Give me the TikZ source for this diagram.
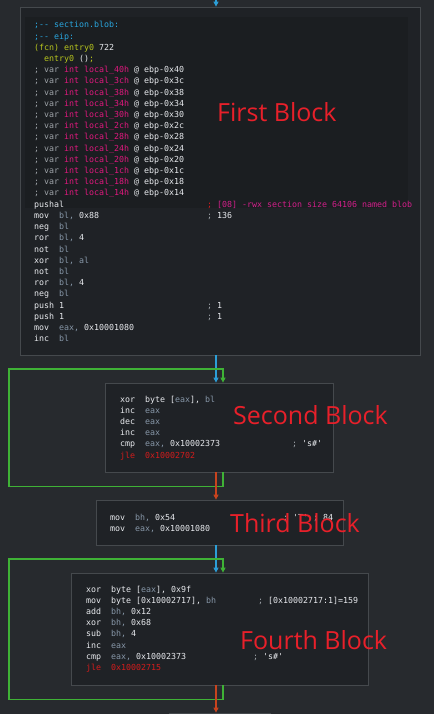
\documentclass[tikz,border=0pt]{standalone}
\usepackage{fontspec}
\setmonofont{DejaVu Sans Mono}
\newfontfamily\labelfont{Open Sans}
\usetikzlibrary{arrows.meta}
\definecolor{bgc}{HTML}{272A2E}
\definecolor{blk}{HTML}{1F2226}
\definecolor{pnl}{HTML}{1B1E21}
\definecolor{brd}{HTML}{45494D}
\definecolor{wht}{HTML}{E8EAEE}
\definecolor{reg}{HTML}{8797A8}
\definecolor{cmt}{HTML}{9EA3A8}
\definecolor{cyn}{HTML}{2AA6DE}
\definecolor{ygn}{HTML}{B8C61E}
\definecolor{mgt}{HTML}{E0187E}
\definecolor{pnk}{HTML}{D21F8A}
\definecolor{jred}{HTML}{D41C1C}
\definecolor{lred}{HTML}{E8202A}
\definecolor{eblue}{HTML}{2C9FD8}
\definecolor{egreen}{HTML}{3FB236}
\definecolor{ered}{HTML}{C8431E}
\newcommand\Rg[1]{\textcolor{reg}{#1}}
\newcommand\Cm[1]{\textcolor{cmt}{#1}}
\newcommand\Cy[1]{\textcolor{cyn}{#1}}
\newcommand\Yg[1]{\textcolor{ygn}{#1}}
\newcommand\Mg[1]{\textcolor{mgt}{#1}}
\newcommand\Pk[1]{\textcolor{pnk}{#1}}
\newcommand\Jr[1]{\textcolor{jred}{#1}}
\newcommand\CL[4]{\node[code] (#1) at (#2,#3) {#4};}
\tikzset{
  code/.style={anchor=base west, inner sep=0pt, text=wht, font=\ttfamily\fontsize{8.3}{10}\selectfont},
  blockbox/.style={draw=brd, fill=blk, line width=0.8pt, inner sep=0pt},
  bigtag/.style={anchor=base west, inner sep=0pt, text=lred, font=\labelfont\fontsize{25}{28}\selectfont},
  edge/.style={line width=1.1pt, -{Triangle[width=5pt,length=5pt]}},
}
\begin{document}
\begin{tikzpicture}[x=1pt,y=-1pt]
\fill[bgc] (0,0) rectangle (434,714);
\useasboundingbox (0,0) rectangle (434,714);
\clip (0,0) rectangle (434,714);
\coordinate (cx) at (216,0);
\coordinate (gx) at (223,0);
\coordinate (topin) at (216,-2);
% blocks
\node[blockbox, minimum width=400pt, minimum height=348pt] (b1) at (220,181) {};
\fill[pnl] (25,17) rectangle (408,208);
\node[blockbox, minimum width=228pt, minimum height=89pt] (b2) at (219,427.5) {};
\node[blockbox, minimum width=247pt, minimum height=45pt] (b3) at (219.5,522.5) {};
\node[blockbox, minimum width=297pt, minimum height=112pt] (b4) at (219.5,629) {};
\node[blockbox, minimum width=101pt, minimum height=34pt] (b5) at (219.5,730) {};
% first block text
\CL{a0}{34}{28}{\Cy{;-{}- section.blob:}}
\CL{a1}{34}{39.2}{\Cy{;-{}- eip:}}
\CL{a2}{34}{50.4}{\Yg{(fcn) entry0} 722}
\CL{a3}{44}{61.6}{\Yg{entry0} ()\Yg{;}}
\foreach \n/\h [count=\i from 4] in {40/40,3c/3c,38/38,34/34,30/30,2c/2c,28/28,24/24,20/20,1c/1c,18/18,14/14}
  {\node[code] (v\i) at (34,{28+11.2*\i}) {\Cm{; var} \Mg{int} \Mg{local\_\n h} @ ebp-0x\h};}
\CL{a16}{34}{207.2}{pushal}
\CL{c16}{207}{207.2}{\Jr{;} \Pk{[08] -rwx section size 64106 named blob}}
\CL{a17}{34}{218.4}{mov~~\Rg{bl,} 0x88}
\CL{c17}{207}{218.4}{\Cm{;} 136}
\CL{a18}{34}{229.6}{neg~~\Rg{bl}}
\CL{a19}{34}{240.8}{ror~~\Rg{bl,} 4}
\CL{a20}{34}{252}{not~~\Rg{bl}}
\CL{a21}{34}{263.2}{xor~~\Rg{bl, al}}
\CL{a22}{34}{274.4}{not~~\Rg{bl}}
\CL{a23}{34}{285.6}{ror~~\Rg{bl,} 4}
\CL{a24}{34}{296.8}{neg~~\Rg{bl}}
\CL{a25}{34}{308}{push 1}
\CL{c25}{207}{308}{\Cm{;} 1}
\CL{a26}{34}{319.2}{push 1}
\CL{c26}{207}{319.2}{\Cm{;} 1}
\CL{a27}{34}{330.4}{mov~~\Rg{eax,} 0x10001080}
\CL{a28}{34}{341.6}{inc~~\Rg{bl}}
% second block text
\CL{s0}{120}{402}{xor~~byte [\Rg{eax}], \Rg{bl}}
\CL{s1}{120}{413.2}{inc~~\Rg{eax}}
\CL{s2}{120}{424.4}{dec~~\Rg{eax}}
\CL{s3}{120}{435.6}{inc~~\Rg{eax}}
\CL{s4}{120}{446.8}{cmp~~\Rg{eax,} 0x10002373}
\CL{sc4}{292}{446.8}{\Cm{;} 's\#'}
\CL{s5}{120}{458}{\Jr{jle~~0x10002702}}
% third block text
\CL{t0}{110}{520}{mov~~\Rg{bh,} 0x54}
\CL{tc0}{283}{520}{\Cm{;} 'T' \Cm{;} 84}
\CL{t1}{110}{531.2}{mov~~\Rg{eax,} 0x10001080}
% fourth block text
\CL{f0}{86}{592}{xor~~byte [\Rg{eax}], 0x9f}
\CL{f1}{86}{603.2}{mov~~byte [0x10002717], \Rg{bh}}
\CL{fc1}{258}{603.2}{\Cm{;} [0x10002717:1]=159}
\CL{f2}{86}{614.4}{add~~\Rg{bh,} 0x12}
\CL{f3}{86}{625.6}{xor~~\Rg{bh,} 0x68}
\CL{f4}{86}{636.8}{sub~~\Rg{bh,} 4}
\CL{f5}{86}{648}{inc~~\Rg{eax}}
\CL{f6}{86}{659.2}{cmp~~\Rg{eax,} 0x10002373}
\CL{fc6}{253}{659.2}{\Cm{;} 's\#'}
\CL{f7}{86}{670.4}{\Jr{jle~~0x10002715}}
% labels
\node[bigtag] (L1) at (217,122) {First Block};
\node[bigtag] (L2) at (233,424) {Second Block};
\node[bigtag] (L3) at (230,532) {Third Block};
\node[bigtag] (L4) at (240,649) {Fourth Block};
% connectors
\draw[edge, eblue] (topin) -- (b1.north -| cx);
\draw[edge, eblue] (b1.south -| cx) -- (b2.north -| cx);
\draw[edge, egreen] (b2.south -| gx) -- ++(0,14) -| (9,369) -| (b2.north -| gx);
\draw[edge, ered] (b2.south -| cx) -- (b3.north -| cx);
\draw[edge, eblue] (b3.south -| cx) -- (b4.north -| cx);
\draw[edge, egreen] (b4.south -| gx) -- ++(0,14) -| (9,559) -| (b4.north -| gx);
\draw[edge, ered] (b4.south -| cx) -- (b5.north -| cx);
\end{tikzpicture}
\end{document}
